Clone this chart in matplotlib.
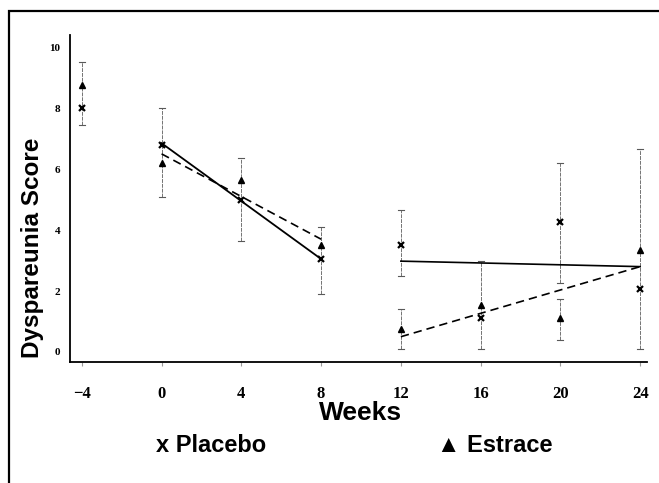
import matplotlib.pyplot as plt
from matplotlib.patches import Rectangle

# data
weeks = [-4, 0, 4, 8, 12, 16, 20, 24]
placebo = [8.0, 6.8, 5.0, 3.05, 3.5, 1.1, 4.25, 2.05]
estrace = [8.75, 6.2, 5.65, 3.5, 0.75, 1.55, 1.1, 3.35]

# error bars (week, low, high)
err_weeks = [-4, 0, 4, 8, 12, 12, 16, 20, 20, 24]
err_low = [7.45, 5.1, 3.65, 1.9, 2.5, 0.1, 0.1, 2.25, 0.4, 0.1]
err_high = [9.5, 8.0, 6.35, 4.1, 4.65, 1.4, 3.0, 6.2, 1.75, 6.65]

# fitted lines (two periods)
fit_x1 = [0, 8]
fit_placebo1 = [6.85, 3.05]
fit_estrace1 = [6.5, 3.7]
fit_x2 = [12, 24]
fit_placebo2 = [2.98, 2.8]
fit_estrace2 = [0.5, 2.8]

xticks = [-4, 0, 4, 8, 12, 16, 20, 24]
xticklabels = ['\u22124', '0', '4', '8', '12', '16', '20', '24']
yticks = [0, 2, 4, 6, 8, 10]

fig = plt.figure(figsize=(6.59, 4.83), dpi=100)
ax = fig.add_axes([0.106, 0.2505, 0.876, 0.677])

# frame round the figure (cut off at right and bottom)
fig.patches.append(Rectangle((9/659, -0.05), 1.0, 1 - 11/483 + 0.05,
                             transform=fig.transFigure, fill=False,
                             lw=1.6, ec='black'))

# error bars
for w, lo, hi in zip(err_weeks, err_low, err_high):
    ax.plot([w, w], [lo, hi], color='0.45', lw=0.7, ls=(0, (4, 1)))
    ax.plot([w - 0.15, w + 0.15], [lo, lo], color='0.35', lw=0.8)
    ax.plot([w - 0.15, w + 0.15], [hi, hi], color='0.35', lw=0.8)

ax.plot(fit_x1, fit_placebo1, color='black', lw=1.3)
ax.plot(fit_x1, fit_estrace1, color='black', lw=1.2, ls=(0, (5, 3)))
ax.plot(fit_x2, fit_placebo2, color='black', lw=1.2)
ax.plot(fit_x2, fit_estrace2, color='black', lw=1.2, ls=(0, (5, 3)))

ax.plot(weeks, placebo, 'x', color='black', ms=4.5, mew=1.6)
ax.plot(weeks, estrace, '^', color='black', ms=4.5)

ax.set_xlim(-4.6, 24.35)
ax.set_ylim(-0.33, 10.4)
ax.spines['top'].set_visible(False)
ax.spines['right'].set_visible(False)
ax.spines['left'].set_linewidth(1.3)
ax.spines['bottom'].set_linewidth(1.3)

ax.set_xticks(xticks)
ax.set_xticklabels(xticklabels, fontfamily='Liberation Serif',
                   fontweight='bold', fontsize=12)
ax.set_yticks(yticks)
ax.set_yticklabels([str(v) for v in yticks], fontfamily='Liberation Serif',
                   fontweight='bold', fontsize=8)
ax.tick_params(axis='x', length=3, color='0.6', pad=14)
ax.tick_params(axis='y', length=0, pad=7)

fig.text(33/659, 1 - 248/483, 'Dyspareunia Score', rotation=90,
         ha='center', va='center', fontfamily='Liberation Sans',
         fontweight='bold', fontsize=17.5)
fig.text(361/659, 1 - 413/483, 'Weeks', ha='center', va='center',
         fontfamily='Liberation Sans', fontweight='bold', fontsize=19)
fig.text(211/659, 1 - 445/483, 'x Placebo', ha='center', va='center',
         family=['Liberation Sans', 'DejaVu Sans'], fontweight='bold',
         fontsize=17)
fig.text(495/659, 1 - 445/483, '\u25b2 Estrace', ha='center', va='center',
         family=['Liberation Sans', 'DejaVu Sans'], fontweight='bold',
         fontsize=17)

fig.savefig('out.png', dpi=100)
